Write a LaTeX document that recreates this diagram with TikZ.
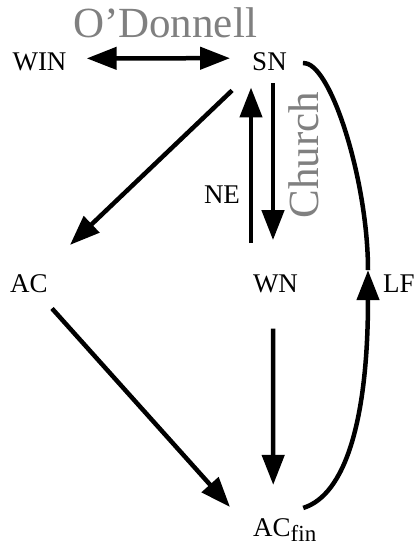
\documentclass[tikz,border=0pt]{standalone}
\usepackage{fontspec}
\setmainfont{Liberation Serif}
\usetikzlibrary{arrows.meta}
\definecolor{labelgray}{HTML}{808080}
\tikzset{
  lbl/.style={inner sep=0pt, anchor=base, font=\fontsize{27}{30}\selectfont},
  glbl/.style={inner sep=0pt, anchor=base, text=labelgray, font=\fontsize{43}{46}\selectfont},
  tip/.style={Triangle[length=30pt,width=22pt]},
  conn/.style={line width=4.5pt, -{Triangle[length=30pt,width=22pt]}},
  plainconn/.style={line width=4.5pt}
}
\begin{document}
\begin{tikzpicture}[x=1pt,y=1pt]
\useasboundingbox (0,0) rectangle (416,-547);
\node[lbl] (WIN) at (39.5,-70) {WIN};
\node[lbl] (SN) at (269.5,-70) {SN};
\node[lbl] (AC) at (29,-292) {AC};
\node[lbl] (WN) at (275.5,-292) {WN};
\node[lbl, anchor=base west] (LF) at (383,-292) {LF};
\node[lbl, anchor=base west] (ACfin) at (253,-536) {AC\raisebox{-5pt}{\fontsize{23}{25}\selectfont fin}};
\node[lbl] (NE) at (222,-203) {NE};
\node[glbl] (OD) at (165,-37) {O’Donnell};
\node[glbl, rotate=90] (CH) at (318,-155) {Church};

% WIN <-> SN
\draw[line width=4.5pt, {Triangle[length=30pt,width=22pt]}-{Triangle[length=30pt,width=22pt]}]
  ([xshift=20pt,yshift=3pt]WIN.east) -- ([xshift=-22pt,yshift=3pt]SN.west);
% SN -> AC
\draw[conn] ([xshift=-20pt,yshift=-20pt]SN.south west) -- ([xshift=41pt,yshift=29pt]AC.north);
% WN -> SN (NE)
\draw[conn] ([xshift=-24.5pt,yshift=31pt]WN.north) -- ([xshift=-18.5pt,yshift=-17pt]SN.south);
% SN -> WN (Church)
\draw[conn] ([xshift=3.5pt,yshift=-13pt]SN.south) -- ([xshift=-2.5pt,yshift=34pt]WN.north);
% WN -> ACfin
\draw[conn] ([xshift=-2.5pt,yshift=-36pt]WN.south) -- ([xshift=-11.5pt,yshift=33pt]ACfin.north);
% AC -> ACfin
\draw[conn] ([xshift=23pt,yshift=-16pt]AC.south) -- ([xshift=-23pt,yshift=11pt]ACfin.north west);
% ACfin -> LF -> SN
\coordinate (lftip) at ([xshift=-15pt,yshift=13pt]LF.west);
\draw[conn] ([xshift=18.5pt,yshift=10pt]ACfin.north) .. controls +(42,13) and +(0,-150) .. (lftip);
\draw[plainconn] (lftip) .. controls +(0,90) and +(27,3) .. ([xshift=16pt,yshift=-2pt]SN.east);
\end{tikzpicture}
\end{document}
